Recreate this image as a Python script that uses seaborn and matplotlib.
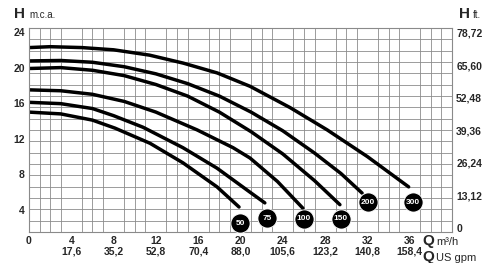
import numpy as np
import pandas as pd
import matplotlib
matplotlib.use("Agg")
import matplotlib.pyplot as plt
import matplotlib.transforms as mtransforms
import seaborn as sns

# ---- data (Q in m3/h, H in m.c.a.) ----
c300_q = [0, 2, 5, 8, 11.4, 14.6, 17.8, 20.9, 24.7, 28.2, 32.0, 35.9]
c300_h = [22.25, 22.35, 22.25, 22.0, 21.4, 20.5, 19.4, 17.9, 15.5, 13.0, 10.0, 6.6]
c200_q = [0, 3, 6, 9, 12, 15, 18, 21, 24, 27, 29.5, 31.5]
c200_h = [20.75, 20.8, 20.6, 20.1, 19.3, 18.2, 16.8, 15.0, 12.9, 10.4, 8.1, 5.9]
c150_q = [0, 3, 6, 9, 12, 15, 18, 21, 24, 27, 29.4]
c150_h = [19.9, 20.0, 19.7, 19.1, 18.1, 16.8, 15.0, 12.8, 10.3, 7.3, 4.6]
c100_q = [0, 3, 6, 9, 12, 15.9, 19.3, 20.9, 23.5, 25.9]
c100_h = [17.5, 17.4, 17.0, 16.2, 15.0, 13.0, 11.0, 9.84, 7.2, 4.2]
c75_q = [0, 3, 6, 8, 10.78, 14.56, 17.78, 20.9, 22.3]
c75_h = [16.1, 15.95, 15.4, 14.6, 13.3, 11.0, 8.7, 6.0, 4.8]
c50_q = [0, 3, 6, 8.13, 11.44, 14.56, 17.78, 19.86]
c50_h = [15.0, 14.8, 14.1, 13.2, 11.5, 9.3, 6.6, 4.34]

models = ["50", "75", "100", "150", "200", "300"]
badge_q = [19.95, 22.5, 26.0, 29.5, 32.06, 36.3]
badge_h = [2.5, 3.1, 3.0, 3.0, 4.9, 4.9]

q_ticks = [0, 4, 8, 12, 16, 20, 24, 28, 32, 36]
gpm_labels = ["", "17,6", "35,2", "52,8", "70,4", "88,0", "105,6", "123,2", "140,8", "158,4"]
h_ticks = [4, 8, 12, 16, 20, 24]
ft_ticks = [0, 13.12, 26.24, 39.36, 52.48, 65.60, 78.72]
ft_labels = ["0", "13,12", "26,24", "39,36", "52,48", "65,60", "78,72"]

curves = {"300": (c300_q, c300_h), "200": (c200_q, c200_h), "150": (c150_q, c150_h),
          "100": (c100_q, c100_h), "75": (c75_q, c75_h), "50": (c50_q, c50_h)}
rows = []
for name, (qs, hs) in curves.items():
    for q, h in zip(qs, hs):
        rows.append({"model": name, "Q": q, "H": h})
df = pd.DataFrame(rows)
badges = pd.DataFrame({"model": models, "Q": badge_q, "H": badge_h})

sns.set_theme(style="white")
plt.rcParams["font.family"] = ["Liberation Sans", "DejaVu Sans"]

W, H = 500, 263
fig = plt.figure(figsize=(5.0, 2.63), dpi=100)
ax = fig.add_axes([29 / W, 1 - 232 / H, (452 - 29) / W, (232 - 28) / H])

ylo, yhi = 1.53, 24.45
xlo, xhi = 0, 40
ax.set_xlim(xlo, xhi)
ax.set_ylim(ylo, yhi)

# grid on minor ticks
ax.set_xticks(np.linspace(xlo, xhi, 41), minor=True)
ax.set_yticks(np.linspace(ylo, yhi, 19), minor=True)
ax.grid(which="minor", color="#8c8c8c", linewidth=0.6)
ax.grid(which="major", visible=False)
ax.tick_params(which="both", length=0)

sns.lineplot(data=df, x="Q", y="H", hue="model", palette=["black"] * 6,
             linewidth=2.5, legend=False, ax=ax, sort=False, estimator=None)
sns.scatterplot(data=badges, x="Q", y="H", color="black", s=190, ax=ax,
                legend=False, zorder=5, clip_on=False, edgecolor="white", linewidth=0.6)
for m, q, h in zip(models, badge_q, badge_h):
    ax.text(q, h, m, color="white", fontsize=6, fontweight="bold",
            ha="center", va="center", zorder=6)

ax.set_xticks(q_ticks)
ax.set_xticklabels([f"{t}\n{g}" if g else f"{t}\n " for t, g in zip(q_ticks, gpm_labels)],
                   fontsize=7.5, fontweight="bold", linespacing=1.05)
shift = mtransforms.ScaledTranslation(-5 / 100, 0, fig.dpi_scale_trans)
for lbl in ax.get_xticklabels():
    lbl.set_transform(lbl.get_transform() + shift)
ax.set_yticks(h_ticks)
ax.set_yticklabels([str(t) for t in h_ticks], fontsize=7.5, fontweight="bold")
ax.tick_params(axis="x", pad=3)
ax.tick_params(axis="y", pad=3)
ax.set_xlabel("")
ax.set_ylabel("")
for s in ax.spines.values():
    s.set_color("#8a8a8a")
    s.set_linewidth(0.8)

ax2 = ax.twinx()
ax2.set_position(ax.get_position())
ax2.set_ylim(-1.6, 80.7)
ax2.set_yticks(ft_ticks)
ax2.set_yticklabels(ft_labels, fontsize=7.5, fontweight="bold")
ax2.tick_params(axis="y", length=0, pad=3)
ax2.grid(False)
for s in ax2.spines.values():
    s.set_visible(False)

def ftext(px, py, s, **kw):
    fig.text(px / W, 1 - py / H, s, **kw)

ftext(14, 14, "H", fontsize=11, fontweight="bold", va="center", ha="left")
ftext(29, 15, "m.c.a.", fontsize=7, va="center", ha="left")
ftext(459, 14, "H", fontsize=11, fontweight="bold", va="center", ha="left")
ftext(473, 15, "ft.", fontsize=7, va="center", ha="left")
ftext(422, 241, "Q", fontsize=11, fontweight="bold", va="center", ha="left")
ftext(436, 242, "m³/h", fontsize=8, va="center", ha="left")
ftext(422, 257, "Q", fontsize=11, fontweight="bold", va="center", ha="left")
ftext(436, 258, "US gpm", fontsize=8, va="center", ha="left")

fig.savefig("out.png", dpi=100)
